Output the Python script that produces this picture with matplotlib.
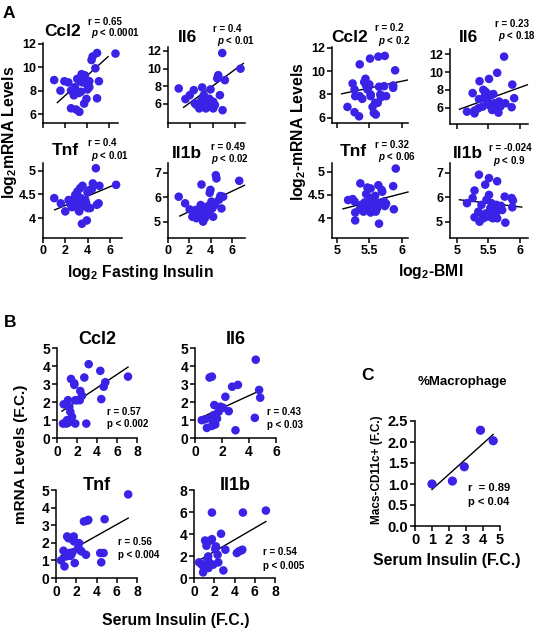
import numpy as np
import matplotlib
matplotlib.use("Agg")
import matplotlib.pyplot as plt
from matplotlib import font_manager
from matplotlib.ticker import FuncFormatter

W, H = 539, 632
BLUE = "#3a22e6"

# Arial Narrow is used in the original; fall back to a smaller regular face if no narrow one exists
_names = {f.name for f in font_manager.fontManager.ttflist}
HAS_NARROW = "Liberation Sans Narrow" in _names
NARROW = "Liberation Sans Narrow" if HAS_NARROW else "Liberation Sans"
NSCALE = 1.0 if HAS_NARROW else 0.87

plt.rcParams["font.family"] = ["Liberation Sans", "DejaVu Sans"]
plt.rcParams["font.weight"] = "bold"
plt.rcParams["mathtext.fontset"] = "custom"
plt.rcParams["mathtext.rm"] = "Liberation Sans:bold"
plt.rcParams["mathtext.it"] = "Liberation Sans:bold:italic"
plt.rcParams["mathtext.bf"] = "Liberation Sans:bold"

genes = ["Ccl2", "Il6", "Tnf", "Il1b"]

# ---- A, left: log2 fasting insulin ----
ins_ccl2_x = [1.01, 1.58, 1.94, 2.3, 2.54, 2.8, 2.54, 3.0, 3.3, 3.1, 3.25, 3.43, 3.5, 3.8, 3.58, 3.85,
              4.03, 4.03, 3.73, 3.94, 3.4, 4.2, 4.4, 4.5, 4.9, 4.75, 4.9, 5.07, 6.57, 2.9, 4.2]
ins_ccl2_y = [8.9, 8.0, 8.8, 8.7, 8.0, 7.6, 6.5, 6.4, 6.2, 9.0, 7.8, 7.9, 9.4, 9.3, 8.7, 8.8,
              8.5, 8.1, 6.9, 7.3, 8.8, 8.8, 10.6, 10.9, 11.2, 9.9, 7.35, 8.8, 11.15, 8.3, 8.3]
ins_il6_x = [0.96, 1.56, 1.95, 2.31, 2.55, 2.8, 3.06, 3.0, 3.21, 3.24, 3.45, 3.39, 3.6, 3.75, 3.81,
             4.05, 4.2, 4.05, 4.5, 4.41, 4.65, 4.86, 4.89, 5.1, 6.5, 2.4, 3.69]
ins_il6_y = [7.76, 6.56, 7.0, 7.57, 5.9, 5.5, 7.87, 6.45, 7.0, 5.9, 6.45, 5.5, 6.07, 5.7, 7.65,
             6.26, 5.9, 5.5, 9.26, 8.9, 7.0, 11.77, 5.3, 8.7, 10.0, 6.07, 6.6]
ins_tnf_x = [1.01, 1.6, 2.0, 2.3, 2.45, 2.6, 2.6, 2.8, 2.9, 3.0, 3.1, 3.2, 3.2, 3.25, 3.34, 3.4, 3.43,
             3.5, 3.55, 3.64, 3.7, 3.8, 3.88, 4.0, 3.94, 4.03, 4.24, 4.18, 4.4, 4.48, 4.75, 4.84, 5.0,
             5.07, 6.57]
ins_tnf_y = [4.42, 4.31, 4.14, 4.38, 4.3, 4.38, 4.23, 4.28, 4.49, 4.38, 4.56, 4.31, 4.17, 4.14, 4.63,
             4.42, 4.23, 3.88, 4.68, 4.35, 4.28, 4.38, 4.31, 4.54, 3.95, 4.21, 4.21, 4.59, 4.61, 4.73,
             5.05, 4.28, 4.31, 4.68, 4.7]
ins_il1b_x = [1.0, 1.6, 2.03, 2.28, 2.66, 2.6, 2.9, 3.13, 3.06, 3.22, 3.28, 3.44, 3.34, 3.5, 3.6, 3.7,
              3.75, 3.84, 3.9, 3.97, 4.06, 4.13, 4.22, 4.38, 4.47, 4.53, 4.78, 4.9, 5.0, 5.16, 6.66]
ins_il1b_y = [6.02, 5.75, 5.5, 5.2, 5.14, 5.48, 5.37, 6.52, 5.68, 5.2, 5.0, 5.14, 5.4, 5.48, 5.27, 5.61,
              5.34, 5.4, 6.18, 6.3, 5.82, 5.54, 5.2, 5.68, 6.9, 6.77, 5.9, 6.05, 5.54, 6.02, 6.67]
ins_r = ["0.65", "0.4", "0.4", "0.49"]
ins_p = ["0.0001", "0.01", "0.01", "0.02"]
# fitted lines as drawn: slope, intercept, x from, x to
ins_slope = [0.849, 0.929, 0.098, 0.208]
ins_icpt = [5.88, 4.32, 4.07, 5.0]
ins_fit_from = [1.3, 1.4, 1.05, 1.1]
ins_fit_to = [5.9, 6.75, 6.25, 7.15]

# ---- A, right: log2 BMI ----
bmi_ccl2_x = [5.16, 5.24, 5.27, 5.27, 5.28, 5.34, 5.35, 5.35, 5.39, 5.42, 5.44, 5.45, 5.47, 5.49, 5.51,
              5.5, 5.52, 5.52, 5.55, 5.57, 5.6, 5.59, 5.63, 5.64, 5.65, 5.67, 5.68, 5.73, 5.74, 5.76,
              5.87, 5.87, 5.9]
bmi_ccl2_y = [6.94, 8.94, 8.43, 6.49, 7.86, 6.14, 10.57, 7.86, 7.63, 9.06, 9.34, 8.77, 8.43, 8.66, 11.06,
              8.86, 8.0, 7.86, 6.94, 6.43, 6.29, 7.29, 7.29, 11.23, 8.66, 8.0, 7.77, 8.71, 11.29, 7.86,
              8.77, 8.57, 10.06]
bmi_il6_x = [5.16, 5.25, 5.28, 5.28, 5.34, 5.35, 5.36, 5.41, 5.42, 5.44, 5.45, 5.46, 5.47, 5.49, 5.51,
             5.53, 5.55, 5.56, 5.58, 5.59, 5.62, 5.64, 5.64, 5.66, 5.67, 5.69, 5.7, 5.75, 5.77, 5.87,
             5.88, 5.91]
bmi_il6_y = [5.54, 7.63, 5.35, 5.66, 5.92, 6.95, 8.97, 6.11, 8.0, 7.25, 7.82, 6.95, 7.63, 6.68, 9.23,
             6.19, 7.44, 5.73, 7.52, 6.49, 6.19, 5.81, 9.92, 5.43, 6.68, 6.11, 6.42, 11.74, 6.49, 6.04,
             8.59, 7.06]
bmi_tnf_x = [5.17, 5.24, 5.27, 5.28, 5.28, 5.35, 5.36, 5.38, 5.41, 5.43, 5.45, 5.47, 5.48, 5.5, 5.52,
             5.52, 5.53, 5.54, 5.55, 5.57, 5.59, 5.6, 5.61, 5.62, 5.64, 5.64, 5.65, 5.69, 5.7, 5.73,
             5.74, 5.76, 5.87, 5.88, 5.91]
bmi_tnf_y = [4.39, 4.41, 4.36, 4.12, 3.95, 4.19, 4.75, 4.29, 4.14, 4.34, 4.52, 4.66, 4.21, 4.36, 4.64,
             4.12, 4.43, 4.29, 4.19, 4.36, 4.48, 4.14, 4.26, 4.21, 4.71, 4.32, 3.88, 4.61, 4.57, 4.36,
             4.26, 4.31, 4.69, 4.19, 5.07]
bmi_il1b_x = [5.16, 5.25, 5.28, 5.28, 5.34, 5.35, 5.36, 5.39, 5.41, 5.42, 5.45, 5.46, 5.47, 5.49, 5.51,
              5.51, 5.53, 5.54, 5.55, 5.57, 5.59, 5.61, 5.63, 5.64, 5.64, 5.67, 5.7, 5.72, 5.76, 5.77,
              5.87, 5.89, 5.88]
bmi_il1b_y = [5.76, 5.97, 6.28, 5.18, 5.41, 6.93, 5.0, 5.69, 5.28, 5.14, 6.52, 5.34, 5.9, 5.21, 6.79,
              6.1, 5.55, 5.37, 5.76, 5.14, 5.48, 5.28, 5.69, 6.66, 5.14, 5.48, 5.65, 5.48, 6.03, 4.96,
              5.97, 5.87, 5.59]
bmi_r = ["0.2", "0.23", "0.32", "-0.024"]
bmi_p = ["0.2", "0.18", "0.06", "0.9"]
bmi_slope = [1.147, 2.55, 0.361, -0.303]
bmi_icpt = [2.245, -7.04, 2.362, 7.427]
bmi_fit_from = [5.07, 5.04, 5.09, 5.04]
bmi_fit_to = [6.09, 6.12, 6.1, 6.03]

# ---- B: serum insulin (F.C.) ----
ser_ccl2_x = [0.6, 0.67, 0.93, 1.0, 1.1, 1.17, 1.23, 1.33, 1.4, 1.5, 1.73, 1.73, 1.83, 1.83, 2.0, 2.27,
              2.33, 2.5, 2.73, 2.93, 3.17, 4.33, 4.43, 4.67, 4.83, 7.1]
ser_ccl2_y = [0.8, 1.87, 0.8, 0.99, 2.1, 0.86, 1.73, 1.46, 3.28, 1.18, 2.95, 3.04, 2.1, 0.8, 2.1, 2.1,
              2.61, 2.35, 3.36, 0.8, 4.1, 3.73, 2.16, 2.85, 3.1, 3.41]
ser_il6_x = [0.5, 0.75, 0.88, 1.08, 1.13, 1.25, 1.25, 1.38, 1.43, 1.5, 1.63, 1.75, 1.88, 2.08, 2.25,
             2.5, 2.75, 3.0, 3.18, 4.43, 4.5, 4.75, 4.83]
ser_il6_y = [0.99, 1.04, 0.56, 3.36, 1.08, 3.41, 0.67, 1.27, 1.83, 0.75, 1.08, 1.46, 1.74, 1.68, 2.29,
             1.49, 2.85, 0.43, 2.95, 1.12, 4.35, 2.67, 2.24]
ser_tnf_x = [0.5, 0.74, 0.84, 1.0, 1.1, 1.18, 1.24, 1.34, 1.41, 1.5, 1.61, 1.68, 1.75, 1.78, 1.85, 2.18,
             2.28, 2.35, 2.52, 2.76, 2.96, 3.09, 3.19, 4.37, 4.47, 4.7, 4.8, 7.13]
ser_tnf_y = [1.0, 1.55, 0.66, 1.23, 2.36, 1.26, 2.26, 1.42, 1.26, 1.32, 1.45, 2.17, 2.36, 2.08, 0.85,
             1.7, 1.98, 1.6, 1.51, 3.21, 1.32, 3.26, 3.3, 1.42, 0.89, 1.42, 3.34, 4.75]
ser_il1b_x = [0.5, 0.77, 0.9, 1.0, 1.1, 1.17, 1.23, 1.33, 1.4, 1.43, 1.5, 1.67, 1.77, 1.77, 1.9, 2.1,
              2.17, 2.33, 2.4, 2.67, 2.9, 3.1, 4.23, 4.43, 4.67, 4.77, 4.83, 7.1]
ser_il1b_y = [1.42, 1.21, 0.51, 0.82, 3.41, 1.06, 2.93, 1.66, 1.96, 0.91, 1.42, 3.41, 3.53, 5.95, 1.21,
              2.63, 2.87, 2.11, 1.42, 4.02, 0.69, 2.57, 2.27, 2.42, 2.51, 2.57, 5.95, 6.13]
ser_r = ["0.57", "0.43", "0.56", "0.54"]
ser_p = ["0.002", "0.03", "0.004", "0.005"]
ser_slope = [0.371, 0.343, 0.323, 0.536]
ser_icpt = [1.305, 0.98, 1.10, 1.33]
ser_fit_from = [0.5, 0.58, 0.5, 0.5]
ser_fit_to = [7.1, 4.75, 7.13, 7.1]

# ---- C: %macrophage ----
mac_x = [1.0, 2.2, 2.9, 3.85, 4.6]
mac_y = [1.0, 1.07, 1.41, 2.28, 2.03]
mac_slope, mac_icpt, mac_fit = 0.364, 0.506, (1.0, 4.6)


def px_rect(l, t, r, b):
    return [l / W, 1 - b / H, (r - l) / W, (b - t) / H]


def put(fig, x, y, s, ha="center", va="center", **kw):
    fig.text(x / W, 1 - y / H, s, ha=ha, va=va, **kw)


def label(fig, x, y, s, size, **kw):
    # labels set in a narrow face in the original
    put(fig, x, y, s, fontsize=size * NSCALE, family=NARROW, **kw)


def panel(fig, box, x, y, fit, xlim, ylim, xticks, yticks, xlabels=True, tick_fs=9, fmt="{:g}", ms=38):
    ax = fig.add_axes(px_rect(*box))
    ax.scatter(x, y, s=ms, color=BLUE, edgecolors="none", zorder=3, clip_on=False)
    k, b, x0, x1 = fit
    fx = np.array([x0, x1])
    ax.plot(fx, k * fx + b, color="black", lw=1.0, zorder=2, clip_on=False)
    ax.set_xlim(xlim)
    ax.set_ylim(ylim)
    ax.set_xticks(xticks)
    ax.set_yticks(yticks)
    ax.yaxis.set_major_formatter(FuncFormatter(lambda v, p: fmt.format(v)))
    ax.xaxis.set_major_formatter(FuncFormatter(lambda v, p: f"{v:g}"))
    for s in ("top", "right"):
        ax.spines[s].set_visible(False)
    for s in ("left", "bottom"):
        ax.spines[s].set_linewidth(1.1)
    ax.tick_params(direction="out", length=3.5, width=1.1, labelsize=tick_fs, pad=1.5)
    if not xlabels:
        ax.set_xticklabels([])
    ax.patch.set_alpha(0)
    return ax


fig = plt.figure(figsize=(W / 100, H / 100), dpi=100)

# panel A, left block
a_left = [(43, 43, 118, 123), (168, 47, 245, 123), (43, 163, 122, 238), (168, 163, 245, 238)]
a_left_lim = [(5.25, 12.05), (3.85, 12.45), (3.58, 5.16), (4.33, 7.4)]
a_left_xmax = [6.8, 6.9, 7.1, 7.2]
a_yticks = [[6, 8, 10, 12], [6, 8, 10, 12], [4, 4.5, 5], [5, 6, 7]]
ins_xs = [ins_ccl2_x, ins_il6_x, ins_tnf_x, ins_il1b_x]
ins_ys = [ins_ccl2_y, ins_il6_y, ins_tnf_y, ins_il1b_y]
for i in range(4):
    panel(fig, a_left[i], ins_xs[i], ins_ys[i],
          (ins_slope[i], ins_icpt[i], ins_fit_from[i], ins_fit_to[i]),
          (0, a_left_xmax[i]), a_left_lim[i], [0, 2, 4, 6], a_yticks[i], xlabels=i >= 2)

a_title_pos = [(63, 31), (188, 37), (65, 151), (187, 153)]
a_r_pos = [(88, 22), (213, 29), (88, 143), (211, 147)]
a_p_pos = [(91, 33), (217, 41), (91, 156), (211, 159)]
for i, g in enumerate(genes):
    put(fig, *a_title_pos[i], g, fontsize=12.5)
    put(fig, *a_r_pos[i], f"r = {ins_r[i]}", ha="left", fontsize=7)
    put(fig, *a_p_pos[i], rf"$\it{{p}}$ < {ins_p[i]}", ha="left", fontsize=7)

# panel A, right block
a_right = [(332, 47, 408, 123), (450, 49, 528, 124), (332, 163, 408, 238), (450, 163, 528, 238)]
a_right_lim = [(5.57, 12.05), (4.15, 12.6), (3.57, 5.19), (4.33, 7.41)]
a_right_xlim = [(4.92, 6.1), (4.89, 6.13), (4.92, 6.1), (4.89, 6.13)]
bmi_xs = [bmi_ccl2_x, bmi_il6_x, bmi_tnf_x, bmi_il1b_x]
bmi_ys = [bmi_ccl2_y, bmi_il6_y, bmi_tnf_y, bmi_il1b_y]
for i in range(4):
    panel(fig, a_right[i], bmi_xs[i], bmi_ys[i],
          (bmi_slope[i], bmi_icpt[i], bmi_fit_from[i], bmi_fit_to[i]),
          a_right_xlim[i], a_right_lim[i], [5, 5.5, 6], a_yticks[i], xlabels=i >= 2)

b_title_pos = [(350, 38), (468, 37), (353, 152), (468, 154)]
b_r_pos = [(375, 28), (495, 24), (375, 145), (489, 148)]
b_p_pos = [(378, 41), (498, 36), (378, 157), (493, 161)]
for i, g in enumerate(genes):
    put(fig, *b_title_pos[i], g, fontsize=12.5)
    put(fig, *b_r_pos[i], f"r = {bmi_r[i]}", ha="left", fontsize=7)
    put(fig, *b_p_pos[i], rf"$\it{{p}}$ < {bmi_p[i]}", ha="left", fontsize=7)

put(fig, 9, 13, "A", fontsize=12.5)
label(fig, 10, 132, r"log$_{2}$mRNA Levels", 13, rotation=90)
label(fig, 298, 132, r"log$_{2}$-mRNA Levels", 13, rotation=90)
label(fig, 140, 272, r"log$_{2}$ Fasting Insulin", 13)
label(fig, 431, 271, r"log$_{2}$-BMI", 13)

# panel B
b_boxes = [(57, 348, 137, 438), (195, 348, 276, 438), (56, 490, 137, 578), (194, 490, 275, 578)]
b_xmax = [8, 6, 8, 8]
b_ymax = [5, 5, 5, 8]
b_yticks = [[0, 1, 2, 3, 4, 5], [0, 1, 2, 3, 4, 5], [0, 1, 2, 3, 4, 5], [0, 2, 4, 6, 8]]
ser_xs = [ser_ccl2_x, ser_il6_x, ser_tnf_x, ser_il1b_x]
ser_ys = [ser_ccl2_y, ser_il6_y, ser_tnf_y, ser_il1b_y]
for i in range(4):
    panel(fig, b_boxes[i], ser_xs[i], ser_ys[i],
          (ser_slope[i], ser_icpt[i], ser_fit_from[i], ser_fit_to[i]),
          (0, b_xmax[i]), (0, b_ymax[i]), list(range(0, b_xmax[i] + 1, 2)), b_yticks[i],
          tick_fs=10)

bt_pos = [(97, 340), (236, 340), (97, 485), (235, 485)]
br_pos = [(107, 412), (267, 412), (118, 542), (263, 552)]
bp_pos = [(107, 424), (267, 425), (118, 555), (263, 566)]
for i, g in enumerate(genes):
    put(fig, *bt_pos[i], g, fontsize=13)
    put(fig, *br_pos[i], f"r = {ser_r[i]}", ha="left", fontsize=7)
    put(fig, *bp_pos[i], f"p < {ser_p[i]}", ha="left", fontsize=7)

put(fig, 10, 322, "B", fontsize=12.5)
put(fig, 21, 454, "mRNA Levels (F.C.)", rotation=90, fontsize=11)
label(fig, 176, 620, "Serum Insulin (F.C.)", 13)

# panel C
panel(fig, (415, 421, 500, 526), mac_x, mac_y, (mac_slope, mac_icpt, *mac_fit),
      (0, 5), (0, 2.5), [0, 1, 2, 3, 4, 5], [0, 0.5, 1.0, 1.5, 2.0, 2.5],
      tick_fs=10.5, fmt="{:.1f}", ms=44)
put(fig, 368, 375, "C", fontsize=12.5)
put(fig, 462, 382, "%Macrophage", fontsize=9.5)
put(fig, 377, 470, "Macs-CD11c+ (F.C.)", rotation=90, fontsize=8.5)
label(fig, 447, 560, "Serum Insulin (F.C.)", 13)
put(fig, 468, 488, "r  = 0.89", ha="left", fontsize=8)
put(fig, 468, 502, "p < 0.04", ha="left", fontsize=8)

fig.savefig("out.png", dpi=100)
